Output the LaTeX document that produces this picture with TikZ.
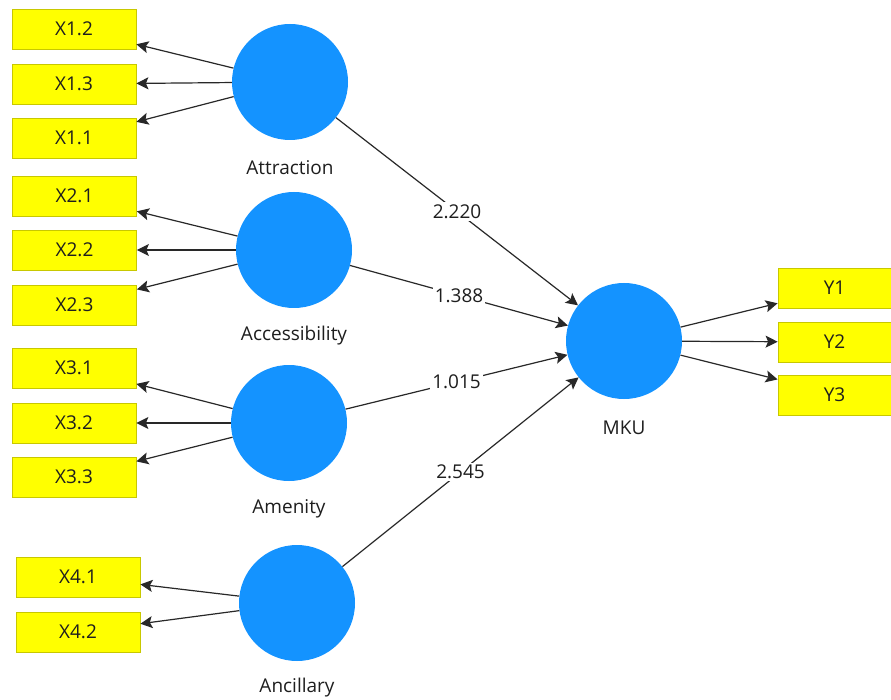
\documentclass[tikz,border=0pt]{standalone}
\usepackage{fontspec}
\setmainfont{Open Sans}
\usetikzlibrary{arrows.meta}
\definecolor{lvblue}{RGB}{20,147,255}
\definecolor{mvfill}{RGB}{255,255,0}
\definecolor{mvdraw}{RGB}{200,200,0}
\definecolor{linec}{RGB}{40,40,40}
\definecolor{txt}{RGB}{30,30,30}
\begin{document}
\begin{tikzpicture}[x=1pt,y=-1pt,
  lv/.style={circle,fill=lvblue,minimum size=116pt,inner sep=0pt},
  mv/.style={rectangle,fill=mvfill,draw=mvdraw,line width=0.8pt,minimum width=124pt,minimum height=40pt,inner sep=0pt,font=\fontsize{19}{22}\selectfont,text=txt},
  lvlabel/.style={font=\fontsize{19}{22}\selectfont,text=txt,inner sep=0pt},
  conn/.style={draw=linec,line width=1.2pt,-{Stealth[length=12pt,width=12pt,inset=2.5pt]}},
  coef/.style={fill=white,inner sep=2pt,font=\fontsize{19}{22}\selectfont,text=txt}]
\clip (0,0) rectangle (891,700);
\fill[white] (0,0) rectangle (891,700);
% latent variables
\node[lv] (att) at (290,82) {};
\node[lv] (acc) at (294,250) {};
\node[lv] (ame) at (289,423) {};
\node[lv] (anc) at (297,603) {};
\node[lv] (mku) at (624,341) {};
\node[lvlabel] (latt) at (290,168) {Attraction};
\node[lvlabel] (lacc) at (294,336) {Accessibility};
\node[lvlabel] (lame) at (289,509) {Amenity};
\node[lvlabel] (lanc) at (297,688) {Ancillary};
\node[lvlabel] (lmku) at (624,428) {MKU};
% indicators
\node[mv] (x12) at (74,29) {X1.2};
\node[mv] (x13) at (74,84) {X1.3};
\node[mv] (x11) at (74,138) {X1.1};
\node[mv] (x21) at (74.5,196) {X2.1};
\node[mv] (x22) at (74.5,250) {X2.2};
\node[mv] (x23) at (74.5,305) {X2.3};
\node[mv] (x31) at (74,368) {X3.1};
\node[mv] (x32) at (74,423) {X3.2};
\node[mv] (x33) at (74,477) {X3.3};
\node[mv] (x41) at (78,577) {X4.1};
\node[mv] (x42) at (78,632) {X4.2};
\node[mv] (y1) at (840,288) {\hspace*{-11pt}Y1};
\node[mv] (y2) at (840,342) {\hspace*{-11pt}Y2};
\node[mv] (y3) at (840,395) {\hspace*{-11pt}Y3};
% outer loadings
\draw[conn] (att) -- (x12);
\draw[conn] (att) -- (x13);
\draw[conn] (att) -- (x11);
\draw[conn] (acc) -- (x21);
\draw[conn] (acc) -- (x22);
\draw[conn] (acc) -- (x23);
\draw[conn] (ame) -- (x31);
\draw[conn] (ame) -- (x32);
\draw[conn] (ame) -- (x33);
\draw[conn] (anc) -- (x41);
\draw[conn] (anc) -- (x42);
\draw[conn] (mku) -- (y1);
\draw[conn] (mku) -- (y2);
\draw[conn] (mku) -- (y3);
% structural paths
\draw[conn] (att) -- node[coef] {2.220} (mku);
\draw[conn] (acc) -- node[coef] {1.388} (mku);
\draw[conn] (ame) -- node[coef] {1.015} (mku);
\draw[conn] (anc) -- node[coef] {2.545} (mku);
\end{tikzpicture}
\end{document}
